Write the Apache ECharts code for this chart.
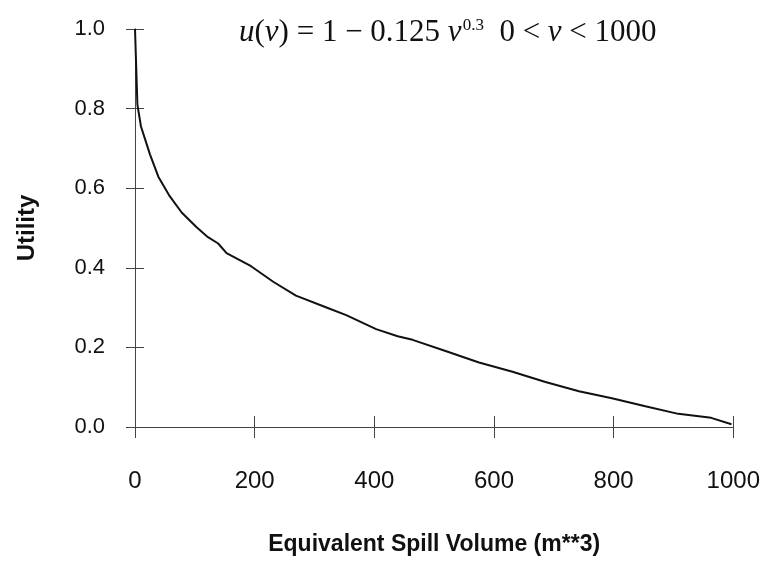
<!DOCTYPE html>
<html>
<head>
<meta charset="utf-8">
<script src="https://cdn.jsdelivr.net/npm/echarts@6/dist/echarts.min.js"></script>
<style>html,body{margin:0;padding:0;background:#fff}#c{width:763px;height:561px}</style>
</head>
<body>
<div id="c"></div>
<script>
// Data
const volume = [0, 4, 10, 25, 39, 58, 78, 103, 122, 139, 153, 194, 231, 269, 319, 353, 403, 439, 464, 519, 575, 631, 686, 742, 797, 853, 908, 963, 997];
const utility = [1.0, 0.81, 0.755, 0.685, 0.629, 0.58, 0.539, 0.502, 0.477, 0.461, 0.437, 0.404, 0.365, 0.330, 0.301, 0.281, 0.246, 0.228, 0.219, 0.191, 0.162, 0.139, 0.113, 0.090, 0.072, 0.052, 0.033, 0.023, 0.007];
const xTicks = [0, 200, 400, 600, 800, 1000];
const yTicks = [0.0, 0.2, 0.4, 0.6, 0.8, 1.0];
const xTitle = 'Equivalent Spill Volume (m**3)';
const yTitle = 'Utility';

const chart = echarts.init(document.getElementById('c'), null, {renderer: 'canvas'});
const axisCol = '#444';
const sans = "'Liberation Sans', Arial, Helvetica, sans-serif";
const serif = "'Liberation Serif', 'Times New Roman', serif";
const pts = volume.map((v, i) => [v, utility[i]]);

const xBase = {
  type: 'value', min: xTicks[0], max: xTicks[xTicks.length - 1], interval: xTicks[1] - xTicks[0],
  axisLine: {show: true, onZero: false, lineStyle: {color: axisCol, width: 1}},
  splitLine: {show: false}
};
const yBase = {
  type: 'value', min: yTicks[0], max: yTicks[yTicks.length - 1], interval: 0.2,
  axisLine: {show: true, onZero: false, lineStyle: {color: axisCol, width: 1}},
  splitLine: {show: false}
};

chart.setOption({
  animation: false,
  backgroundColor: '#fff',
  grid: {left: 135, right: 28, top: 29, bottom: 125, containLabel: false},
  title: {
    text: '{i|u}({i|v}) = 1 − 0.125 {i|v}{sup|0.3}  0 < {i|v} < 1000',
    left: 234, top: 12,
    textStyle: {
      fontFamily: serif, fontSize: 31, fontWeight: 'normal', color: '#111',
      rich: {
        i: {fontFamily: serif, fontSize: 31, fontStyle: 'italic', color: '#111'},
        sup: {fontFamily: serif, fontSize: 17, color: '#111', verticalAlign: 'top', padding: [0, 0, 15, 1]}
      }
    }
  },
  xAxis: [
    Object.assign({}, xBase, {
      position: 'bottom',
      name: xTitle, nameLocation: 'middle', nameGap: 106,
      nameTextStyle: {fontFamily: sans, fontSize: 23, fontWeight: 'bold', color: '#111'},
      axisTick: {show: true, inside: false, length: 11, lineStyle: {color: axisCol}},
      axisLabel: {show: true, margin: 42, fontFamily: sans, fontSize: 24, color: '#111',
        formatter: v => String(v)}
    }),
    Object.assign({}, xBase, {
      position: 'bottom',
      axisTick: {show: true, inside: true, length: 11, lineStyle: {color: axisCol}},
      axisLabel: {show: false}
    })
  ],
  yAxis: [
    Object.assign({}, yBase, {
      position: 'left',
      name: yTitle, nameLocation: 'middle', nameGap: 96, nameRotate: 90,
      nameTextStyle: {fontFamily: sans, fontSize: 24, fontWeight: 'bold', color: '#111'},
      axisTick: {show: true, inside: false, length: 9, lineStyle: {color: axisCol}},
      axisLabel: {show: true, margin: 30, fontFamily: sans, fontSize: 22, color: '#111',
        padding: [6, 0, 0, 0], formatter: v => v.toFixed(1)}
    }),
    Object.assign({}, yBase, {
      position: 'left',
      axisTick: {show: true, inside: true, length: 9, lineStyle: {color: axisCol}},
      axisLabel: {show: false}
    })
  ],
  series: [{
    type: 'line', xAxisIndex: 0, yAxisIndex: 0,
    data: pts, showSymbol: false, smooth: false,
    lineStyle: {color: '#111', width: 2}
  }]
});
</script>
</body>
</html>
